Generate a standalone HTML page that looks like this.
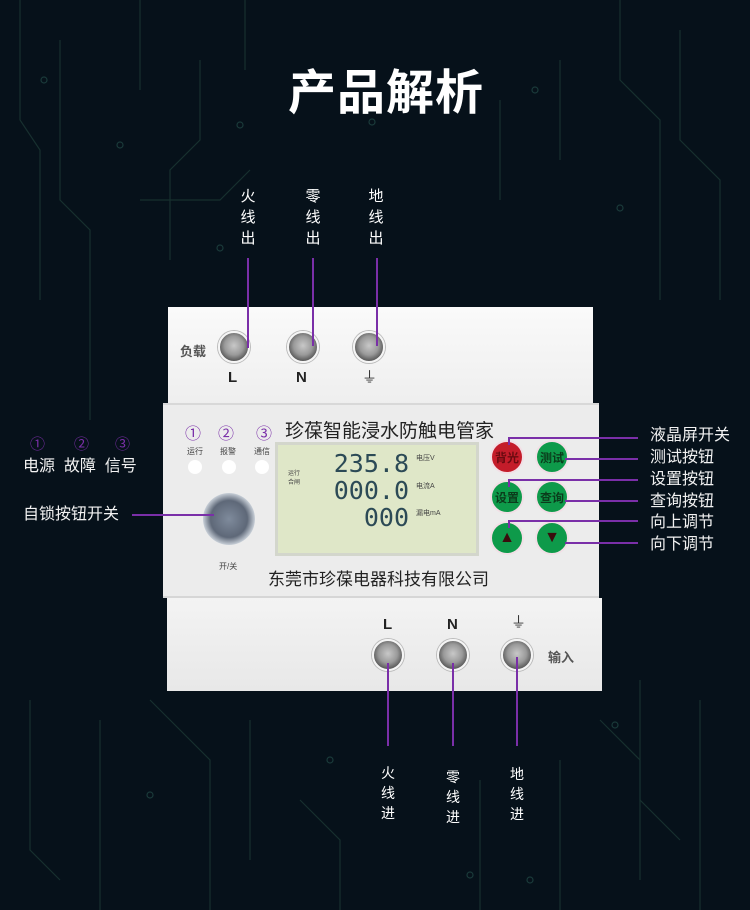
<!DOCTYPE html>
<html><head><meta charset="utf-8">
<style>
*{margin:0;padding:0;box-sizing:border-box}
body{width:750px;height:910px;overflow:hidden;background:#06111a;font-family:"Liberation Sans","Noto Sans CJK SC",sans-serif;position:relative}
.a{position:absolute}
.lbl{color:#f2f2f2;font-size:16px;line-height:16px;white-space:nowrap}
.pl{background:#7a2fa8;position:absolute}
.screw{position:absolute;width:32px;height:32px;border-radius:50%;background:radial-gradient(circle at 50% 45%,#c8c8c8 0,#9a9a9a 45%,#555 75%,#ddd 100%);border:2px solid #f5f5f5;box-shadow:0 0 0 1px #bbb}
.btn{position:absolute;width:34px;height:34px;border-radius:50%;background:#0e9a4a;border:2px solid #f2dfe6;color:#0b3b1b;font-size:12px;font-weight:bold;display:flex;align-items:center;justify-content:center}
.dig{font-family:"DejaVu Sans Mono","Liberation Mono",monospace;color:#2c4a56;position:absolute;font-size:25px;line-height:26px;text-align:right;width:80px}
.sm{font-size:8px;color:#444;position:absolute}
.v{color:#fff;font-size:15px;width:20px;text-align:center;line-height:21px;position:absolute}
</style></head><body>
<svg class="a" style="left:0;top:0" width="750" height="910">
<g stroke="#17302f" stroke-width="1.2" fill="none">
<path d="M20 0V120L40 150V300"/><path d="M60 40V200L90 230V420"/><path d="M140 0V90"/><path d="M200 60V140L170 170V260"/><path d="M245 0V70"/><path d="M140 200H220L250 170"/>
<path d="M620 0V80L660 120V300"/><path d="M680 30V140L720 180V300"/><path d="M560 60V160"/><path d="M500 100V200"/>
<path d="M30 700V850L60 880"/><path d="M100 720V910"/><path d="M150 700L210 760V910"/><path d="M250 720V860"/><path d="M300 800L340 840V910"/>
<path d="M640 680V800L680 840"/><path d="M700 700V910"/><path d="M560 760V910"/><path d="M600 720L640 760V880"/><path d="M480 780V910"/>
</g>
<g fill="none" stroke="#1a3a3a" stroke-width="1.2">
<circle cx="44" cy="80" r="3"/><circle cx="120" cy="145" r="3"/><circle cx="240" cy="125" r="3"/><circle cx="372" cy="122" r="3"/><circle cx="535" cy="90" r="3"/><circle cx="620" cy="208" r="3"/><circle cx="220" cy="248" r="3"/>
<circle cx="150" cy="795" r="3"/><circle cx="330" cy="760" r="3"/><circle cx="615" cy="725" r="3"/><circle cx="470" cy="875" r="3"/><circle cx="530" cy="880" r="3"/>
</g>
</svg>

<div class="a" style="left:0;top:66px;width:750px;text-align:center;color:#fff;font-size:48px;font-weight:bold;line-height:56px;letter-spacing:1px;padding-left:22px">产品解析</div>

<div class="v" style="left:238px;top:186px">火<br>线<br>出</div>
<div class="v" style="left:303px;top:186px">零<br>线<br>出</div>
<div class="v" style="left:366px;top:186px">地<br>线<br>出</div>

<div class="a" style="left:168px;top:307px;width:425px;height:100px;background:linear-gradient(#fafafa,#eeeeee);"></div>
<div class="a" style="left:180px;top:341px;font-size:13px;font-weight:bold;color:#555">负载</div>
<div class="screw" style="left:218px;top:331px"></div>
<div class="screw" style="left:287px;top:331px"></div>
<div class="screw" style="left:353px;top:331px"></div>
<div class="a" style="left:228px;top:369px;font-size:15px;font-weight:bold;color:#222">L</div>
<div class="a" style="left:296px;top:369px;font-size:15px;font-weight:bold;color:#222">N</div>
<div class="a" style="left:362px;top:366px;font-size:15px;color:#333">⏚</div>

<div class="a" style="left:163px;top:403px;width:436px;height:195px;background:#ececec;border-top:2px solid #d8d8d8;border-bottom:2px solid #d6d6d6"></div>
<div class="a" style="left:185px;top:420px;color:#7a2fa8;font-size:16px">①</div>
<div class="a" style="left:218px;top:420px;color:#7a2fa8;font-size:16px">②</div>
<div class="a" style="left:256px;top:420px;color:#7a2fa8;font-size:16px">③</div>
<div class="a" style="left:285px;top:416px;font-size:19px;color:#222">珍葆智能浸水防触电管家</div>
<div class="sm" style="left:187px;top:446px">运行</div>
<div class="sm" style="left:220px;top:446px">报警</div>
<div class="sm" style="left:254px;top:446px">通信</div>
<div class="a" style="left:188px;top:460px;width:14px;height:14px;border-radius:50%;background:#fff"></div>
<div class="a" style="left:222px;top:460px;width:14px;height:14px;border-radius:50%;background:#fff"></div>
<div class="a" style="left:255px;top:460px;width:14px;height:14px;border-radius:50%;background:#fff"></div>
<div class="a" style="left:203px;top:493px;width:52px;height:52px;border-radius:50%;background:radial-gradient(circle,#7f8b9c 0,#5e6878 50%,#cfd6de 72%,#8b96a2 85%,#e8e8e8 100%)"></div>
<div class="sm" style="left:219px;top:561px">开/关</div>
<div class="a" style="left:275px;top:442px;width:204px;height:114px;background:#dfe7c8;border:3px solid #d3d6cc"></div>
<div class="dig" style="left:329px;top:451px">235.8</div>
<div class="dig" style="left:329px;top:478px">000.0</div>
<div class="dig" style="left:329px;top:505px">000</div>
<div class="sm" style="left:416px;top:453px;font-size:7px">电压V</div>
<div class="sm" style="left:416px;top:481px;font-size:7px">电流A</div>
<div class="sm" style="left:416px;top:508px;font-size:7px">漏电mA</div>
<div class="sm" style="left:288px;top:468px;font-size:6px">运行<br>合闸</div>
<div class="a" style="left:268px;top:565px;font-size:17px;color:#222">东莞市珍葆电器科技有限公司</div>
<div class="btn" style="left:490px;top:440px;background:#c41c2a;color:#6a0a10">背光</div>
<div class="btn" style="left:535px;top:440px">测试</div>
<div class="btn" style="left:490px;top:480px">设置</div>
<div class="btn" style="left:535px;top:480px">查询</div>
<div class="btn" style="left:490px;top:521px;color:#3a0d0d;font-size:16px">▲</div>
<div class="btn" style="left:535px;top:521px;color:#3a0d0d;font-size:16px">▼</div>

<div class="a" style="left:167px;top:598px;width:435px;height:93px;background:linear-gradient(#f3f3f3,#e8e8e8)"></div>
<div class="screw" style="left:372px;top:639px"></div>
<div class="screw" style="left:437px;top:639px"></div>
<div class="screw" style="left:501px;top:639px"></div>
<div class="a" style="left:383px;top:616px;font-size:15px;font-weight:bold;color:#222">L</div>
<div class="a" style="left:447px;top:616px;font-size:15px;font-weight:bold;color:#222">N</div>
<div class="a" style="left:511px;top:611px;font-size:15px;color:#333">⏚</div>
<div class="a" style="left:548px;top:647px;font-size:13px;font-weight:bold;color:#555">输入</div>

<div class="pl" style="left:247px;top:258px;width:2px;height:90px"></div>
<div class="pl" style="left:312px;top:258px;width:2px;height:88px"></div>
<div class="pl" style="left:376px;top:258px;width:2px;height:88px"></div>
<div class="pl" style="left:387px;top:663px;width:2px;height:83px"></div>
<div class="pl" style="left:452px;top:663px;width:2px;height:83px"></div>
<div class="pl" style="left:516px;top:657px;width:2px;height:89px"></div>
<div class="pl" style="left:132px;top:514px;width:82px;height:2px"></div>
<div class="pl" style="left:508px;top:437px;width:130px;height:2px"></div>
<div class="pl" style="left:508px;top:437px;width:2px;height:8px"></div>
<div class="pl" style="left:565px;top:458px;width:73px;height:2px"></div>
<div class="pl" style="left:508px;top:479px;width:130px;height:2px"></div>
<div class="pl" style="left:508px;top:479px;width:2px;height:8px"></div>
<div class="pl" style="left:565px;top:500px;width:73px;height:2px"></div>
<div class="pl" style="left:508px;top:520px;width:130px;height:2px"></div>
<div class="pl" style="left:508px;top:520px;width:2px;height:8px"></div>
<div class="pl" style="left:565px;top:542px;width:73px;height:2px"></div>

<div class="a lbl" style="left:650px;top:428px">液晶屏开关</div>
<div class="a lbl" style="left:650px;top:450px">测试按钮</div>
<div class="a lbl" style="left:650px;top:472px">设置按钮</div>
<div class="a lbl" style="left:650px;top:494px">查询按钮</div>
<div class="a lbl" style="left:650px;top:515px">向上调节</div>
<div class="a lbl" style="left:650px;top:537px">向下调节</div>

<div class="a" style="left:30px;top:433px;color:#7a2fa8;font-size:15px">①</div>
<div class="a" style="left:74px;top:433px;color:#7a2fa8;font-size:15px">②</div>
<div class="a" style="left:115px;top:433px;color:#7a2fa8;font-size:15px">③</div>
<div class="a lbl" style="left:23px;top:459px">电源&nbsp;&nbsp;故障&nbsp;&nbsp;信号</div>
<div class="a lbl" style="left:23px;top:507px">自锁按钮开关</div>

<div class="v" style="left:378px;top:763px;font-size:14px;line-height:20px">火<br>线<br>进</div>
<div class="v" style="left:443px;top:767px;font-size:14px;line-height:20px">零<br>线<br>进</div>
<div class="v" style="left:507px;top:764px;font-size:14px;line-height:20px">地<br>线<br>进</div>
</body></html>
